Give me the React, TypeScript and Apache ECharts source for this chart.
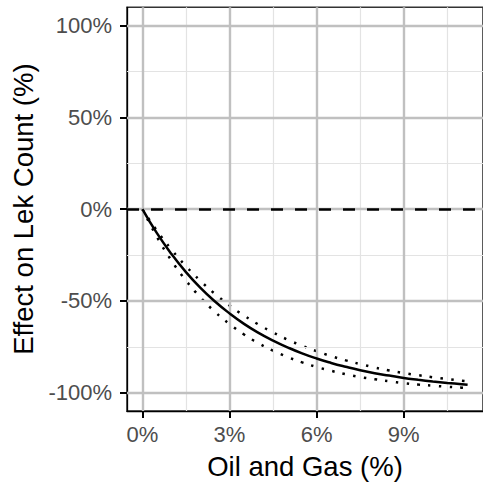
import React, { useEffect, useRef } from "react";
import * as echarts from "echarts";

// Oil and gas surface disturbance (%)
const xPct = [0, 0.5, 1, 1.5, 2, 2.5, 3, 3.5, 4, 4.5, 5, 5.5, 6, 6.5, 7, 7.5, 8, 8.5, 9, 9.5, 10, 10.5, 11, 11.2];
// Estimated effect on lek count (%)
const effect = [0, -13.1, -24.4, -34.3, -42.9, -50.3, -56.8, -62.5, -67.4, -71.6, -75.3, -78.6, -81.4, -83.8, -85.9, -87.8, -89.4, -90.7, -92.0, -93.0, -93.9, -94.7, -95.4, -95.7];
// Upper and lower confidence limits (%)
const upper = [0, -11.7, -22.0, -31.1, -39.1, -46.2, -52.5, -58.0, -62.9, -67.2, -71.1, -74.4, -77.4, -80.1, -82.4, -84.4, -86.3, -87.9, -89.3, -90.5, -91.6, -92.6, -93.5, -93.8];
const lower = [0, -15.1, -28.0, -38.9, -48.1, -56.0, -62.6, -68.3, -73.1, -77.1, -80.6, -83.5, -86.0, -88.1, -89.9, -91.5, -92.7, -93.8, -94.8, -95.6, -96.2, -96.8, -97.3, -97.5];

// Axis ticks
const xMajor = [0, 3, 6, 9];
const xMinor = [1.5, 4.5, 7.5, 10.5];
const yMajor = [-100, -50, 0, 50, 100];
const yMinor = [-75, -25, 25, 75];
const refLine = 0;

const FONT = "'Liberation Sans', Arial, Helvetica, sans-serif";

export default function App() {
  const ref = useRef<HTMLDivElement>(null);
  useEffect(() => {
    if (!ref.current) return;
    const chart = echarts.init(ref.current, null, { renderer: "svg" });
    const pair = (ys: number[]) => xPct.map((x, i) => [x, ys[i]]);
    const majorStyle = { color: "#c0c0c0", width: 2.4, type: "solid" };
    const minorStyle = { color: "#e3e3e3", width: 1.2, type: "solid" };
    const gridLines = [
      ...xMinor.map((v) => ({ xAxis: v, lineStyle: minorStyle })),
      ...yMinor.map((v) => ({ yAxis: v, lineStyle: minorStyle })),
      ...xMajor.map((v) => ({ xAxis: v, lineStyle: majorStyle })),
      ...yMajor.map((v) => ({ yAxis: v, lineStyle: majorStyle })),
    ];
    chart.setOption({
      animation: false,
      backgroundColor: "#ffffff",
      grid: {
        left: 127,
        right: -6,
        top: 7.3,
        bottom: 72.3,
        show: true,
        borderColor: "#333333",
        borderWidth: 1.6,
        backgroundColor: "transparent",
      },
      xAxis: {
        type: "value",
        min: -0.53,
        max: 11.73,
        name: "Oil and Gas (%)",
        nameLocation: "middle",
        nameGap: 41,
        nameTextStyle: { fontFamily: FONT, fontSize: 27.5, color: "#000000" },
        axisLine: { show: true, onZero: false, lineStyle: { color: "#000000", width: 1.3 } },
        axisTick: { show: true, customValues: xMajor, length: 7, lineStyle: { color: "#000000", width: 2 } },
        axisLabel: {
          customValues: xMajor,
          formatter: (v: number) => `${v}%`,
          fontFamily: FONT,
          fontSize: 22,
          color: "#4d4d4d",
          margin: 12,
        },
        splitLine: { show: false },
      },
      yAxis: {
        type: "value",
        min: -110,
        max: 110,
        name: "Effect on Lek Count (%)",
        nameLocation: "middle",
        nameGap: 90,
        nameRotate: 90,
        nameTextStyle: { fontFamily: FONT, fontSize: 27.5, color: "#000000" },
        axisLine: { show: true, onZero: false, lineStyle: { color: "#000000", width: 1.3 } },
        axisTick: { show: true, customValues: yMajor, length: 7, lineStyle: { color: "#000000", width: 2 } },
        axisLabel: {
          customValues: yMajor,
          formatter: (v: number) => `${v}%`,
          fontFamily: FONT,
          fontSize: 22,
          color: "#4d4d4d",
          margin: 15,
        },
        splitLine: { show: false },
      },
      series: [
        {
          type: "line",
          data: [],
          z: 1,
          silent: true,
          markLine: {
            silent: true,
            symbol: "none",
            label: { show: false },
            animation: false,
            data: gridLines,
          },
        },
        {
          type: "line",
          data: [],
          z: 3,
          silent: true,
          markLine: {
            silent: true,
            symbol: "none",
            label: { show: false },
            animation: false,
            data: [{ yAxis: refLine }],
            lineStyle: { color: "#000000", width: 2.6, type: [12, 12] },
          },
        },
        {
          type: "line",
          data: pair(upper),
          z: 4,
          showSymbol: false,
          smooth: true,
          lineStyle: { color: "#000000", width: 2.5, type: [2.5, 8.3], cap: "butt" },
        },
        {
          type: "line",
          data: pair(lower),
          z: 4,
          showSymbol: false,
          smooth: true,
          lineStyle: { color: "#000000", width: 2.5, type: [2.5, 8.3], cap: "butt" },
        },
        {
          type: "line",
          data: pair(effect),
          z: 5,
          showSymbol: false,
          smooth: true,
          lineStyle: { color: "#000000", width: 2.5 },
        },
      ],
    });
    return () => chart.dispose();
  }, []);
  return (
    <div
      ref={ref}
      style={{ position: "absolute", left: 0, top: 0, width: 483, height: 485 }}
    />
  );
}
